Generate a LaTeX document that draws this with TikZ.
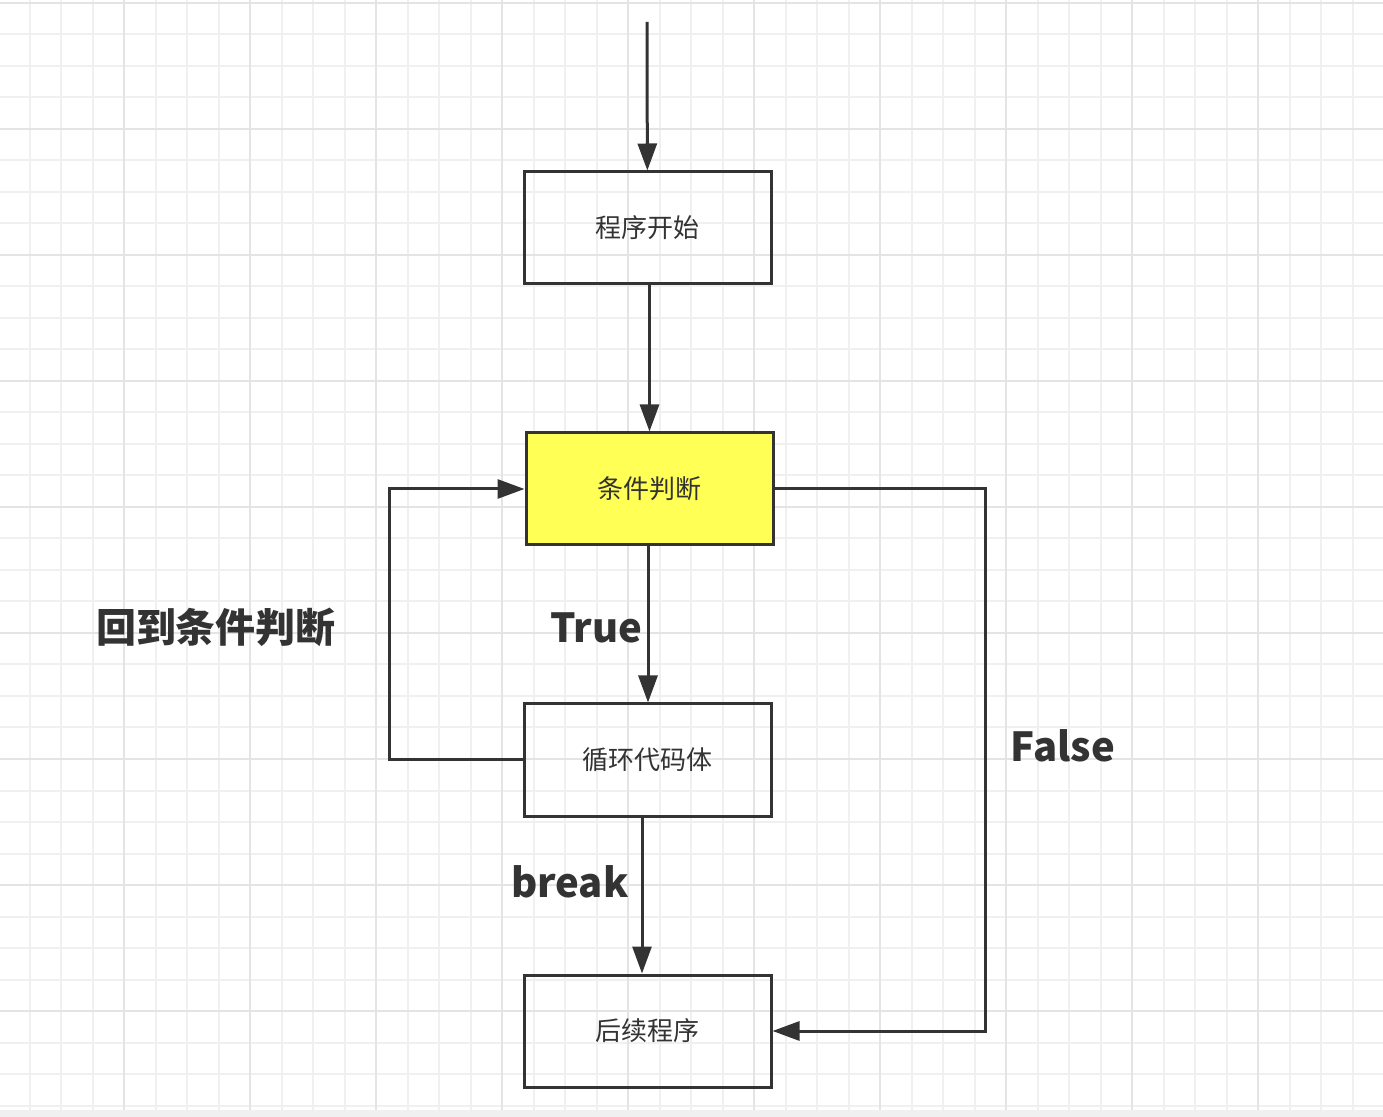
\documentclass[tikz,border=0pt]{standalone}
\usepackage{fontspec}
\setmainfont{Noto Sans CJK SC}
\usetikzlibrary{positioning,arrows.meta}
\definecolor{ink}{HTML}{333333}
\definecolor{condfill}{HTML}{FFFF55}
\definecolor{gridminor}{HTML}{F0F0F0}
\definecolor{gridmajor}{HTML}{E4E4E4}
\begin{document}
\begin{tikzpicture}[x=0.5pt,y=-0.5pt,>={Triangle[length=13.5pt,width=9.5pt]},
  box/.style={draw=ink,line width=1.5pt,minimum width=123.5pt,minimum height=56pt,inner sep=0pt,text=ink,font=\fontsize{13pt}{15pt}\selectfont},
  flow/.style={->,draw=ink,line width=1.5pt},
  lbl/.style={text=ink,font=\bfseries\fontsize{20pt}{24pt}\selectfont}]
\useasboundingbox (0,0) rectangle (1383,1117);
% grid
\fill[white] (0,0) rectangle (1383,1117);
\foreach \k in {1,...,44} \draw[gridminor,line width=1pt] (-2+31.5*\k,0) -- (-2+31.5*\k,1110);
\foreach \k in {0,...,35} \draw[gridminor,line width=1pt] (0,3+31.5*\k) -- (1383,3+31.5*\k);
\foreach \k in {1,...,10} \draw[gridmajor,line width=1pt] (-2+126*\k,0) -- (-2+126*\k,1110);
\foreach \k in {0,...,8} \draw[gridmajor,line width=1pt] (0,3+126*\k) -- (1383,3+126*\k);
\fill[gridminor] (0,1110) rectangle (1383,1117);

\node[box] (start) at (647.5,228) {程序开始};
\node[box,fill=condfill,below=73pt of start,xshift=1pt] (cond) {条件判断};
\node[box,below=78pt of cond,xshift=-1pt] (body) {循环代码体};
\node[box,below=78pt of body] (after) {后续程序};
\coordinate (entry) at (647,22);

\draw[flow] (entry) -- (start);
\draw[flow] (start.south -| cond) -- (cond.north);
\draw[flow] ([xshift=-0.75pt]cond.south) -- ([xshift=-0.75pt]cond.south |- body.north)
  node[lbl,midway,left,inner sep=2pt,yshift=-1.5pt] (truelbl) {True};
\draw[flow] (body.west) -- ++(-133,0) |- (cond.west);
\draw[flow] ([xshift=-2.75pt]body.south) -- ([xshift=-2.75pt]body.south |- after.north)
  node[lbl,midway,left,inner sep=6pt,yshift=7pt] (breaklbl) {break};
\draw[flow] (cond.east) -- ++(211,0) |- (after.east);

\node[lbl] (backlbl) at (216,627) {回到条件判断};
\node[lbl] (falselbl) at (1063,746) {False};
\end{tikzpicture}
\end{document}
